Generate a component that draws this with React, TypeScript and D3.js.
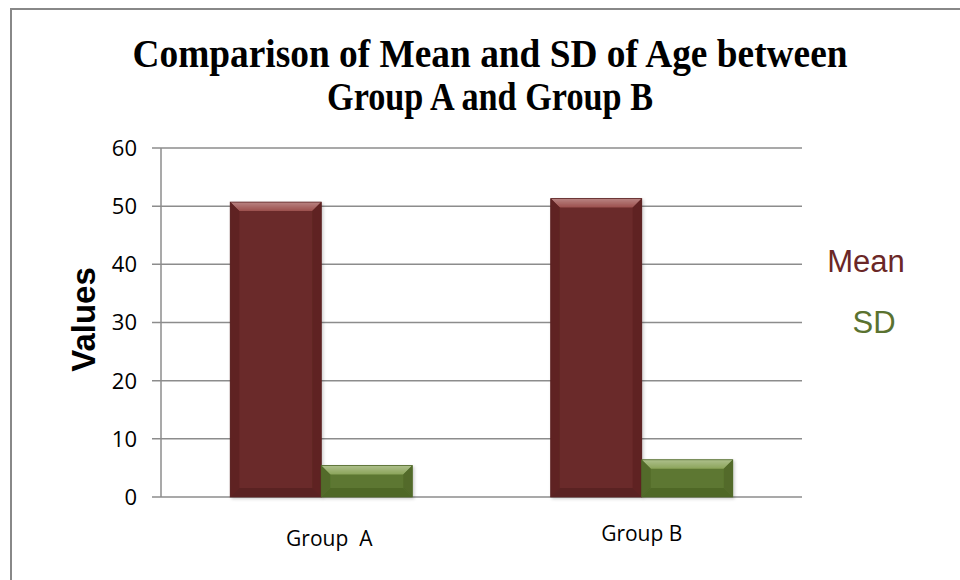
import * as d3 from "d3";

const groups = ["Group  A", "Group B"];
const seriesNames = ["Mean", "SD"];
const meanValues = [50.7, 51.3];
const sdValues = [5.4, 6.4];
const yTicks = [0, 10, 20, 30, 40, 50, 60];
const titleLines = [
  "Comparison of Mean and SD of Age between",
  "Group A and Group B",
];

const COLORS: Record<string, { base: string; top: string; side: string; bottom: string }> = {
  Mean: { base: "#6a2a29", top: "#a35654", side: "#5e2423", bottom: "#5a2221" },
  SD: { base: "#5d7731", top: "#93ab62", side: "#526b2a", bottom: "#4f6728" },
};
const LEGEND_TEXT: Record<string, string> = { Mean: "#6b2727", SD: "#5a7230" };

const W = 960;
const H = 580;
const plot = { left: 161, right: 802, top: 148, bottom: 497 };

function Bar({ x, y, w, h, name }: { x: number; y: number; w: number; h: number; name: string }) {
  const c = COLORS[name];
  const b = Math.min(9, h / 2);
  const pts = (arr: number[][]) => arr.map((p) => p.join(",")).join(" ");
  return (
    <g filter="url(#shadow)">
      <rect x={x} y={y} width={w} height={h} fill={c.base} />
      <polygon points={pts([[x, y], [x + w, y], [x + w - b, y + b], [x + b, y + b]])} fill={c.top} opacity={0.85} />
      <polygon points={pts([[x, y], [x + w, y], [x + w - b, y + b], [x + b, y + b]])} fill="url(#topGrad)" />
      <polygon points={pts([[x, y], [x + b, y + b], [x + b, y + h - b], [x, y + h]])} fill={c.side} />
      <polygon points={pts([[x + w, y], [x + w - b, y + b], [x + w - b, y + h - b], [x + w, y + h]])} fill={c.side} />
      <polygon points={pts([[x, y + h], [x + b, y + h - b], [x + w - b, y + h - b], [x + w, y + h]])} fill={c.bottom} />
      <rect x={x} y={y} width={w} height={h} fill="none" stroke={c.bottom} strokeWidth={0.8} />
    </g>
  );
}

export default function App() {
  const x0 = d3
    .scaleBand()
    .domain(groups)
    .range([plot.left, plot.right])
    .paddingInner(0.432)
    .paddingOuter(0.216);

  const x1 = d3.scaleBand().domain(seriesNames).range([0, x0.bandwidth()]).padding(0);

  const y = d3.scaleLinear().domain([0, 60]).range([plot.bottom, plot.top]);

  const rows = groups.map((g, i) => ({ group: g, Mean: meanValues[i], SD: sdValues[i] }));

  const titleWidths = [715, 326];

  return (
    <svg
      width={W}
      height={H}
      style={{ position: "absolute", left: 0, top: 0, background: "#fff" }}
    >
      <defs>
        <filter id="shadow" x="-10%" y="-10%" width="130%" height="130%">
          <feDropShadow dx="1.5" dy="1.5" stdDeviation="1.5" floodColor="#000" floodOpacity="0.2" />
        </filter>
        <linearGradient id="topGrad" x1="0" y1="0" x2="0" y2="1">
          <stop offset="0" stopColor="#fff" stopOpacity={0.3} />
          <stop offset="1" stopColor="#fff" stopOpacity={0} />
        </linearGradient>
      </defs>

      {/* frame */}
      <rect x={11} y={9} width={W} height={H} fill="#fff" stroke="#888" strokeWidth={2} />

      {/* title */}
      {titleLines.map((t, i) => (
        <text
          key={i}
          x={490 - titleWidths[i] / 2}
          y={67 + i * 43}
          fontFamily="'Liberation Serif', 'Times New Roman', serif"
          fontWeight="bold"
          fontSize={40}
          textLength={titleWidths[i]}
          lengthAdjust="spacingAndGlyphs"
          fill="#000"
        >
          {t}
        </text>
      ))}

      {/* gridlines */}
      <g stroke="#8c8c8c" strokeWidth={1.5}>
        {yTicks.map((t) => (
          <line key={t} x1={plot.left - 9} x2={plot.right} y1={y(t)} y2={y(t)} />
        ))}
        <line x1={plot.left} x2={plot.left} y1={plot.top} y2={plot.bottom} />
      </g>

      {/* y tick labels */}
      <g fontFamily="'Open Sans', sans-serif" fontSize={22} fill="#000" textAnchor="end">
        {yTicks.map((t) => (
          <text key={t} x={137} y={y(t)} dy="0.36em">
            {t}
          </text>
        ))}
      </g>

      {/* y axis title */}
      <text
        transform={`translate(95, ${(plot.top + plot.bottom) / 2 - 3}) rotate(-90)`}
        textAnchor="middle"
        fontFamily="'Liberation Sans', Arial, sans-serif"
        fontWeight="bold"
        fontSize={33}
        fill="#000"
      >
        Values
      </text>

      {/* bars */}
      {rows.map((r) => (
        <g key={r.group} transform={`translate(${x0(r.group)},0)`}>
          {seriesNames.map((s) => {
            const v = (r as any)[s] as number;
            return (
              <Bar
                key={s}
                name={s}
                x={x1(s) ?? 0}
                y={y(v)}
                w={x1.bandwidth()}
                h={y(0) - y(v)}
              />
            );
          })}
        </g>
      ))}

      {/* x labels */}
      <g fontFamily="'Open Sans', sans-serif" fontSize={21} fill="#000" textAnchor="middle">
        {groups.map((g, i) => (
          <text
            key={g}
            x={(x0(g) ?? 0) + x0.bandwidth() / 2 + 8 - i * 8}
            y={546 - i * 5}
            style={{ whiteSpace: "pre" }}
          >
            {g}
          </text>
        ))}
      </g>

      {/* legend */}
      <g fontFamily="'Liberation Sans', Arial, sans-serif" fontSize={31}>
        {seriesNames.map((s, i) => (
          <text key={s} x={866 + i * 8} y={272 + i * 61} textAnchor="middle" fill={LEGEND_TEXT[s]}>
            {s}
          </text>
        ))}
      </g>
    </svg>
  );
}
